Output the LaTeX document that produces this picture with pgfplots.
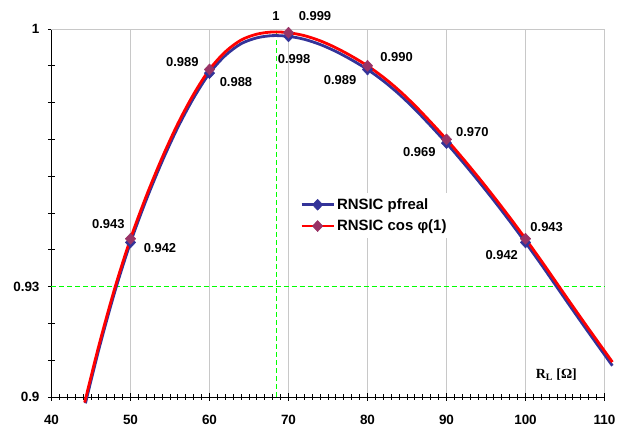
\documentclass[border=0pt]{standalone}
\usepackage{pgfplots}
\pgfplotsset{compat=1.18}
\usepackage{fontspec}
\setmainfont{Liberation Sans}
\newfontfamily\serifb{Liberation Serif}
\definecolor{navyb}{RGB}{51,51,153}
\definecolor{plum}{RGB}{153,51,102}
\definecolor{gridg}{RGB}{200,200,200}
\definecolor{lgreen}{RGB}{0,255,0}
\begin{document}
\begin{tikzpicture}
\useasboundingbox (-51.5bp,-30bp) rectangle (570.5bp,397bp);
\begin{axis}[
  scale only axis, width=553bp, height=368bp,
  xmin=40, xmax=110, ymin=0.9, ymax=1,
  clip=false,
  axis x line*=bottom, axis y line*=left,
  axis line style={black, line width=0.9bp, -},
  xtick={40,50,...,110}, minor x tick num=9,
  ytick={0.9,0.93,1}, yticklabels={0.9,0.93,1},
  extra y ticks={0.91,0.92,0.94,0.95,0.96,0.97,0.98,0.99},
  extra y tick labels={},
  extra y tick style={grid=none},
  tick align=center,
  major tick length=7bp, minor tick length=5.5bp,
  tick style={black, line width=0.8bp},
  xmajorgrids, grid style={gridg, line width=0.8bp},
  /pgf/number format/assume math mode=true,
  ticklabel style={font=\fontsize{13.5}{15}\selectfont\bfseries},
  xticklabel style={yshift=-11bp},
  yticklabel style={xshift=-5bp},
  legend style={at={(0.444,0.556)}, anchor=north west, draw=none, fill=white,
    font=\fontsize{15}{17}\selectfont\bfseries, row sep=5bp,
    inner xsep=3bp, inner ysep=4bp},
  legend cell align=left,
  legend image code/.code={
    \draw[#1, mark indices={2}] plot coordinates {(0bp,0bp) (16bp,0bp) (32bp,0bp)};
  },
]
\draw[gridg, line width=0.8bp] (axis cs:40,1) -- (axis cs:110,1);
\addplot[forget plot, lgreen, line width=1.3bp, dash pattern=on 5bp off 3bp] coordinates {(40,0.93) (110,0.93)};
\addplot[forget plot, lgreen, line width=1.3bp, dash pattern=on 5bp off 3bp] coordinates {(68.5,0.9) (68.5,0.9993)};

\addplot[navyb, line width=2.8bp, smooth, mark=diamond*, mark size=5.5bp,
  mark options={fill=navyb, draw=navyb, line width=0.5bp, solid, xscale=1.25},
  mark indices={4,9,14,19,24,29}] coordinates {
  (44.3,0.8983) (46,0.9130) (48,0.9285) (50,0.9420) (52,0.9536) (54,0.9640)
  (56,0.9733) (58,0.9813) (60,0.9880) (62,0.9928) (64,0.9960) (66,0.9976)
  (68,0.9982) (70,0.9980) (72,0.9972) (74,0.9958) (76,0.9939) (78,0.9916)
  (80,0.9890) (82,0.9859) (84,0.9823) (86,0.9782) (88,0.9737) (90,0.9690)
  (92,0.9640) (94,0.9588) (96,0.9534) (98,0.9478) (100,0.9420) (102,0.9360)
  (104,0.9298) (106,0.9236) (108,0.9175) (110,0.9115) (111,0.9085)
};
\addlegendentry{RNSIC pfreal}
\addplot[red, line width=2.8bp, smooth, mark=diamond*, mark size=5.5bp,
  mark options={fill=plum, draw=plum, line width=0.5bp, solid, xscale=1.25},
  mark indices={4,9,14,19,24,29}] coordinates {
  (44.2,0.8985) (46,0.9140) (48,0.9295) (50,0.9430) (52,0.9546) (54,0.9650)
  (56,0.9743) (58,0.9823) (60,0.9890) (62,0.9938) (64,0.9970) (66,0.9986)
  (68,0.9992) (70,0.9990) (72,0.9982) (74,0.9968) (76,0.9949) (78,0.9926)
  (80,0.9900) (82,0.9869) (84,0.9833) (86,0.9792) (88,0.9747) (90,0.9700)
  (92,0.9650) (94,0.9598) (96,0.9544) (98,0.9488) (100,0.9430) (102,0.9370)
  (104,0.9308) (106,0.9246) (108,0.9185) (110,0.9125) (111,0.9095)
};
\addlegendentry{RNSIC cos φ(1)}

\begin{scope}[every node/.style={font=\fontsize{13}{15}\selectfont\bfseries}]
\node at (axis cs:47.19,0.94693) {0.943};
\node at (axis cs:53.73,0.94057) {0.942};
\node at (axis cs:56.56,0.99095) {0.989};
\node at (axis cs:63.35,0.98552) {0.988};
\node at (axis cs:68.42,1.00362) {1};
\node at (axis cs:73.35,1.00362) {0.999};
\node at (axis cs:70.70,0.99177) {0.998};
\node at (axis cs:76.52,0.98614) {0.989};
\node at (axis cs:83.69,0.99247) {0.990};
\node at (axis cs:93.27,0.97193) {0.970};
\node at (axis cs:86.56,0.96649) {0.969};
\node at (axis cs:102.68,0.94628) {0.943};
\node at (axis cs:96.99,0.93859) {0.942};
\end{scope}
\node[font=\serifb\fontsize{14}{16}\selectfont\bfseries] at (axis cs:103.9,0.906) {R\textsubscript{L} [Ω]};
\end{axis}
\end{tikzpicture}
\end{document}
